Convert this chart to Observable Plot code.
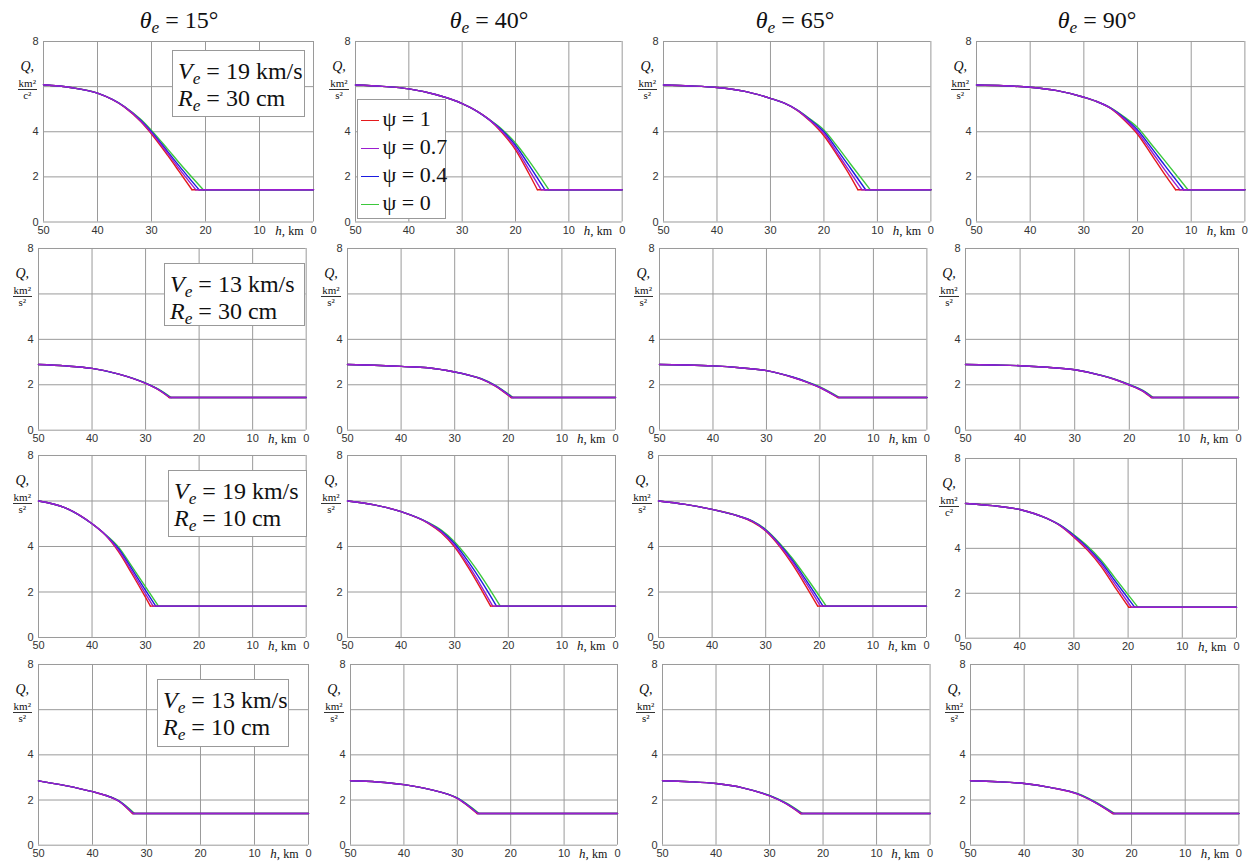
<!DOCTYPE html>
<html><head><meta charset="utf-8">
<script src="https://cdn.jsdelivr.net/npm/d3@7"></script>
<script src="https://cdn.jsdelivr.net/npm/@observablehq/plot@0.6"></script>
<style>
body{margin:0;background:#fff;}
#root{position:relative;width:1252px;height:865px;overflow:hidden;background:#fff;}
.abs{position:absolute;white-space:nowrap;}
.serif{font-family:"Liberation Serif","Times New Roman",serif;color:#111;}
.sub{font-size:0.72em;position:relative;top:0.3em;vertical-align:baseline;line-height:0;}
.title{font-size:24px;line-height:28px;transform:translateX(-50%);}
.box{border:1px solid #999;background:#fff;box-sizing:border-box;}
.note{font-size:24px;line-height:27px;padding:7px 0 0 5px;}
.qlab{text-align:center;width:28px;line-height:1;}
.hlab{font-size:13px;}
.leg{font-size:22px;line-height:28px;padding:5px 0 0 3px;}
.sw{display:inline-block;width:18px;height:0;border-top:1.5px solid;vertical-align:middle;margin-right:4px;}
</style></head><body><div id="root"></div>
<script>
// ---- categories / labels ----
const thetaE = [15, 40, 65, 90];
const velocities = [19, 13, 19, 13];
const radii = [30, 30, 10, 10];
const psiValues = ["1", "0.7", "0.4", "0"];
const psiColors = ["#e41a1c", "#9b1dd0", "#1c1ce0", "#3cc83c"];
const xTicks = [50, 40, 30, 20, 10, 0];
const yTickLabels = [0, 2, 4, 8];
const yGrid = [0, 2, 4, 6, 8];
const qDenoms = [["c²","s²","s²","s²"],["s²","s²","s²","s²"],["s²","s²","s²","c²"],["s²","s²","s²","s²"]];
// floor value of Q (flat part) per row
const qFloor = [1.43, 1.44, 1.38, 1.40];

// ---- series values: h nodes, Q per psi (1, 0.7, 0.4, 0), end altitude of descent ----
// Row 1: Ve=19, Re=30
const h_r0c0 = [50, 45, 40, 35, 32, 30, 27, 25];
const q_r0c0 = [
  [6.08, 5.96, 5.71, 5.09, 4.45, 3.90, 2.95, 2.28],
  [6.08, 5.96, 5.71, 5.10, 4.48, 3.95, 3.04, 2.40],
  [6.08, 5.96, 5.71, 5.11, 4.51, 4.00, 3.12, 2.52],
  [6.08, 5.96, 5.71, 5.12, 4.55, 4.06, 3.23, 2.66]];
const end_r0c0 = [22.5, 21.8, 21.2, 20.4];

const h_r0c1 = [50, 45, 40, 35, 30, 27.5, 25, 22.5, 20, 17.5];
const q_r0c1 = [
  [6.07, 6.01, 5.90, 5.65, 5.25, 4.95, 4.55, 3.95, 3.20, 2.15],
  [6.07, 6.01, 5.90, 5.65, 5.25, 4.95, 4.55, 4.00, 3.30, 2.33],
  [6.07, 6.01, 5.90, 5.65, 5.25, 4.95, 4.55, 4.05, 3.40, 2.53],
  [6.07, 6.01, 5.90, 5.65, 5.25, 4.95, 4.55, 4.10, 3.50, 2.72]];
const end_r0c1 = [15.9, 15.2, 14.5, 13.75];

const h_r0c2 = [50, 45, 40, 35, 30, 27.5, 25, 22.5, 20, 17.5, 15];
const q_r0c2 = [
  [6.07, 6.03, 5.96, 5.80, 5.48, 5.28, 4.95, 4.45, 3.82, 2.95, 2.00],
  [6.07, 6.03, 5.96, 5.80, 5.48, 5.28, 4.96, 4.48, 3.92, 3.05, 2.18],
  [6.07, 6.03, 5.96, 5.80, 5.48, 5.28, 4.965, 4.52, 4.00, 3.20, 2.37],
  [6.07, 6.03, 5.96, 5.80, 5.48, 5.28, 4.97, 4.55, 4.08, 3.35, 2.56]];
const end_r0c2 = [13.65, 12.9, 12.2, 11.35];

const h_r0c3 = [50, 45, 40, 35, 30, 27.5, 25, 22.5, 20, 17.5, 15];
const q_r0c3 = [
  [6.07, 6.04, 5.97, 5.82, 5.53, 5.33, 5.03, 4.52, 3.89, 3.02, 2.13],
  [6.07, 6.04, 5.97, 5.82, 5.53, 5.33, 5.04, 4.57, 3.98, 3.17, 2.33],
  [6.07, 6.04, 5.97, 5.82, 5.53, 5.33, 5.05, 4.62, 4.08, 3.32, 2.53],
  [6.07, 6.04, 5.97, 5.82, 5.53, 5.33, 5.06, 4.66, 4.19, 3.47, 2.74]];
const end_r0c3 = [12.9, 12.1, 11.4, 10.6];

// Row 2: Ve=13, Re=30
const h_r1c0 = [50, 45, 40, 35, 30, 27.5];
const q_r1c0 = [
  [2.89, 2.83, 2.72, 2.47, 2.06, 1.76],
  [2.89, 2.83, 2.72, 2.47, 2.06, 1.77],
  [2.89, 2.83, 2.72, 2.47, 2.07, 1.78],
  [2.89, 2.83, 2.72, 2.47, 2.08, 1.80]];
const end_r1c0 = [25.6, 25.5, 25.4, 25.2];

const h_r1c1 = [50, 45, 40, 35, 30, 27.5, 25, 22.5];
const q_r1c1 = [
  [2.89, 2.86, 2.81, 2.75, 2.56, 2.43, 2.25, 1.95],
  [2.89, 2.86, 2.81, 2.75, 2.56, 2.43, 2.25, 1.96],
  [2.89, 2.86, 2.81, 2.75, 2.56, 2.43, 2.26, 1.97],
  [2.89, 2.86, 2.81, 2.75, 2.56, 2.43, 2.27, 1.99]];
const end_r1c1 = [19.5, 19.4, 19.3, 19.1];

const h_r1c2 = [50, 45, 40, 35, 30, 27.5, 25, 22.5, 20];
const q_r1c2 = [
  [2.89, 2.87, 2.83, 2.75, 2.62, 2.49, 2.32, 2.12, 1.87],
  [2.89, 2.87, 2.83, 2.75, 2.62, 2.49, 2.32, 2.12, 1.88],
  [2.89, 2.87, 2.83, 2.75, 2.62, 2.49, 2.33, 2.13, 1.89],
  [2.89, 2.87, 2.83, 2.75, 2.62, 2.49, 2.33, 2.14, 1.91]];
const end_r1c2 = [16.7, 16.6, 16.5, 16.3];

const h_r1c3 = [50, 45, 40, 35, 30, 25, 22.5, 20, 17.5];
const q_r1c3 = [
  [2.89, 2.87, 2.84, 2.77, 2.66, 2.40, 2.22, 1.99, 1.71],
  [2.89, 2.87, 2.84, 2.77, 2.66, 2.40, 2.22, 1.99, 1.72],
  [2.89, 2.87, 2.84, 2.77, 2.66, 2.40, 2.23, 2.00, 1.73],
  [2.89, 2.87, 2.84, 2.77, 2.66, 2.41, 2.24, 2.02, 1.75]];
const end_r1c3 = [16.0, 15.9, 15.8, 15.6];

// Row 3: Ve=19, Re=10
const h_r2c0 = [50, 45, 40, 37.5, 35, 32.5, 30];
const q_r2c0 = [
  [6.00, 5.70, 5.00, 4.50, 3.75, 2.78, 1.76],
  [6.00, 5.70, 5.00, 4.51, 3.82, 2.88, 1.92],
  [6.00, 5.70, 5.00, 4.52, 3.89, 2.99, 2.07],
  [6.00, 5.70, 5.00, 4.53, 3.96, 3.10, 2.22]];
const end_r2c0 = [29.1, 28.6, 28.1, 27.6];

const h_r2c1 = [50, 45, 40, 35, 32.5, 30, 27.5, 25];
const q_r2c1 = [
  [6.00, 5.83, 5.53, 5.03, 4.60, 3.97, 3.09, 2.09],
  [6.00, 5.83, 5.53, 5.04, 4.64, 4.04, 3.20, 2.24],
  [6.00, 5.83, 5.53, 5.05, 4.68, 4.12, 3.35, 2.47],
  [6.00, 5.83, 5.53, 5.06, 4.72, 4.20, 3.50, 2.68]];
const end_r2c1 = [23.3, 22.9, 22.2, 21.5];

const h_r2c2 = [50, 45, 40, 35, 32.5, 30, 27.5, 25, 22.5];
const q_r2c2 = [
  [6.00, 5.85, 5.63, 5.33, 5.08, 4.68, 4.03, 3.21, 2.26],
  [6.00, 5.85, 5.63, 5.33, 5.11, 4.70, 4.08, 3.31, 2.41],
  [6.00, 5.85, 5.63, 5.33, 5.12, 4.72, 4.12, 3.39, 2.53],
  [6.00, 5.85, 5.63, 5.34, 5.13, 4.75, 4.17, 3.47, 2.67]];
const end_r2c2 = [20.3, 19.8, 19.3, 18.7];

const h_r2c3 = [50, 45, 40, 35, 32.5, 30, 27.5, 25, 22.5];
const q_r2c3 = [
  [6.00, 5.90, 5.73, 5.33, 5.00, 4.50, 3.92, 3.20, 2.30],
  [6.00, 5.90, 5.73, 5.33, 5.01, 4.53, 3.98, 3.30, 2.44],
  [6.00, 5.90, 5.73, 5.33, 5.02, 4.57, 4.04, 3.39, 2.58],
  [6.00, 5.90, 5.73, 5.33, 5.03, 4.60, 4.10, 3.48, 2.71]];
const end_r2c3 = [19.9, 19.4, 18.8, 18.2];

// Row 4: Ve=13, Re=10
const h_r3c0 = [50, 45, 40, 37.5, 35];
const q_r3c0 = [
  [2.85, 2.64, 2.37, 2.20, 1.93],
  [2.85, 2.64, 2.37, 2.20, 1.93],
  [2.85, 2.64, 2.37, 2.20, 1.94],
  [2.85, 2.64, 2.37, 2.20, 1.95]];
const end_r3c0 = [32.6, 32.5, 32.4, 32.2];

const h_r3c1 = [50, 45, 40, 35, 30];
const q_r3c1 = [
  [2.85, 2.80, 2.68, 2.46, 2.07],
  [2.85, 2.80, 2.68, 2.46, 2.07],
  [2.85, 2.80, 2.68, 2.46, 2.08],
  [2.85, 2.80, 2.68, 2.46, 2.09]];
const end_r3c1 = [26.3, 26.2, 26.1, 25.9];

const h_r3c2 = [50, 45, 40, 35, 30, 27];
const q_r3c2 = [
  [2.85, 2.81, 2.73, 2.54, 2.18, 1.85],
  [2.85, 2.81, 2.73, 2.54, 2.18, 1.85],
  [2.85, 2.81, 2.73, 2.54, 2.19, 1.86],
  [2.85, 2.81, 2.73, 2.54, 2.20, 1.88]];
const end_r3c2 = [24.2, 24.1, 24.0, 23.8];

const h_r3c3 = [50, 45, 40, 35, 30, 27];
const q_r3c3 = [
  [2.85, 2.81, 2.73, 2.55, 2.26, 1.92],
  [2.85, 2.81, 2.73, 2.55, 2.26, 1.92],
  [2.85, 2.81, 2.73, 2.55, 2.27, 1.93],
  [2.85, 2.81, 2.73, 2.55, 2.28, 1.95]];
const end_r3c3 = [23.5, 23.4, 23.3, 23.1];

const curveH = [[h_r0c0,h_r0c1,h_r0c2,h_r0c3],[h_r1c0,h_r1c1,h_r1c2,h_r1c3],[h_r2c0,h_r2c1,h_r2c2,h_r2c3],[h_r3c0,h_r3c1,h_r3c2,h_r3c3]];
const curveQ = [[q_r0c0,q_r0c1,q_r0c2,q_r0c3],[q_r1c0,q_r1c1,q_r1c2,q_r1c3],[q_r2c0,q_r2c1,q_r2c2,q_r2c3],[q_r3c0,q_r3c1,q_r3c2,q_r3c3]];
const curveEnd = [[end_r0c0,end_r0c1,end_r0c2,end_r0c3],[end_r1c0,end_r1c1,end_r1c2,end_r1c3],[end_r2c0,end_r2c1,end_r2c2,end_r2c3],[end_r3c0,end_r3c1,end_r3c2,end_r3c3]];

// ---- layout (plot-area pixel boxes) ----
const plotX50 = [[43.3,355,663.3,976.3],[38.3,347,659.3,965],[38.3,347,658,965],[38.3,350,661.7,970.3]];
const plotX0  = [[313.3,621.7,930.7,1244.7],[306,615,926.7,1238],[306,615,926,1236],[308.3,617,929.3,1238.7]];
const plotY8  = [[41,41,41,41],[248.3,248.3,248.3,248.3],[455,455,455,458.3],[664.3,664.3,664.3,664.3]];
const plotY0  = [[221.5,221.5,221.5,221.5],[430,430,430,430],[637,637,637,638],[845,845,845,845]];
const titleX = [179, 489, 795, 1097];
const noteBoxes = [[172,50,133,67],[164,263,141,63],[168,470,139,67],[157,679,132,68]];
const legendBox = [356.5, 99, 89.5, 119.5];
const drawOrder = [0, 3, 2, 1];

const root = document.getElementById("root");
function addDiv(cls, html, style) {
  const d = document.createElement("div");
  d.className = "abs " + cls;
  d.innerHTML = html;
  Object.assign(d.style, style);
  root.appendChild(d);
  return d;
}

const mL = 26, mR = 10, mT = 6, mB = 20;
for (let r = 0; r < 4; r++) {
  for (let c = 0; c < 4; c++) {
    const x50 = plotX50[r][c], x0 = plotX0[r][c], y8 = plotY8[r][c], y0 = plotY0[r][c];
    const W = x0 - x50 + mL + mR, H = y0 - y8 + mT + mB;
    const hs = curveH[r][c], qs = curveQ[r][c], ends = curveEnd[r][c], fl = qFloor[r];
    const marks = [
      Plot.gridX(xTicks, {stroke: "#9a9a9a", strokeOpacity: 1, strokeWidth: 1}),
      Plot.gridY(yGrid, {stroke: "#9a9a9a", strokeOpacity: 1, strokeWidth: 1}),
      Plot.axisX(xTicks, {tickSize: 0, tickPadding: 4, label: null, fontSize: 11, fill: "#333"}),
      Plot.axisY(yTickLabels, {tickSize: 0, tickPadding: 5, label: null, fontSize: 11, fill: "#333"})
    ];
    drawOrder.forEach(s => {
      const pts = hs.map((hh, i) => ({h: hh, Q: qs[s][i]})).concat([{h: ends[s], Q: fl}]);
      marks.push(Plot.line(pts, {x: "h", y: "Q", stroke: psiColors[s], strokeWidth: 1.4, curve: "monotone-x"}));
    });
    drawOrder.forEach(s => {
      marks.push(Plot.line([{h: ends[s], Q: fl}, {h: 0, Q: fl}], {x: "h", y: "Q", stroke: psiColors[s], strokeWidth: 1.4}));
    });
    const svg = Plot.plot({
      width: W, height: H,
      marginLeft: mL, marginRight: mR, marginTop: mT, marginBottom: mB,
      x: {domain: [50, 0]},
      y: {domain: [0, 8]},
      style: {background: "transparent", fontFamily: "'Liberation Sans', Arial, sans-serif", overflow: "visible"},
      marks
    });
    svg.style.position = "absolute";
    svg.style.left = (x50 - mL) + "px";
    svg.style.top = (y8 - mT) + "px";
    svg.style.maxWidth = "none";
    root.appendChild(svg);

    // y label Q, km²/s²
    addDiv("serif qlab",
      `<div style="font-size:14px;font-style:italic;">Q,</div>` +
      `<div style="font-size:11px;border-bottom:1px solid #333;display:inline-block;padding:0 1px;">km²</div>` +
      `<div style="font-size:11px;">${qDenoms[r][c]}</div>`,
      {left: (x50 - 30) + "px", top: (y8 + 19) + "px"});
    // x label h, km
    addDiv("serif hlab", `<i>h</i>, <span style="font-size:12px">km</span>`,
      {left: (x0 - 38) + "px", top: (y0 + 1) + "px"});
  }
}

// column titles
thetaE.forEach((t, c) => {
  addDiv("serif title", `<i>θ</i><span class="sub"><i>e</i></span> = ${t}°`,
    {left: titleX[c] + "px", top: "6px"});
});

// annotation boxes
velocities.forEach((v, r) => {
  const [bx, by, bw, bh] = noteBoxes[r];
  addDiv("serif box note",
    `<div><i>V</i><span class="sub"><i>e</i></span> = ${v} km/s</div><div><i>R</i><span class="sub"><i>e</i></span> = ${radii[r]} cm</div>`,
    {left: bx + "px", top: by + "px", width: bw + "px", height: bh + "px"});
});

// legend
{
  const [lx, ly, lw, lh] = legendBox;
  addDiv("serif box leg",
    psiValues.map((p, i) => `<div><span class="sw" style="border-color:${psiColors[i]}"></span>ψ = ${p}</div>`).join(""),
    {left: lx + "px", top: ly + "px", width: lw + "px", height: lh + "px"});
}
</script></body></html>
